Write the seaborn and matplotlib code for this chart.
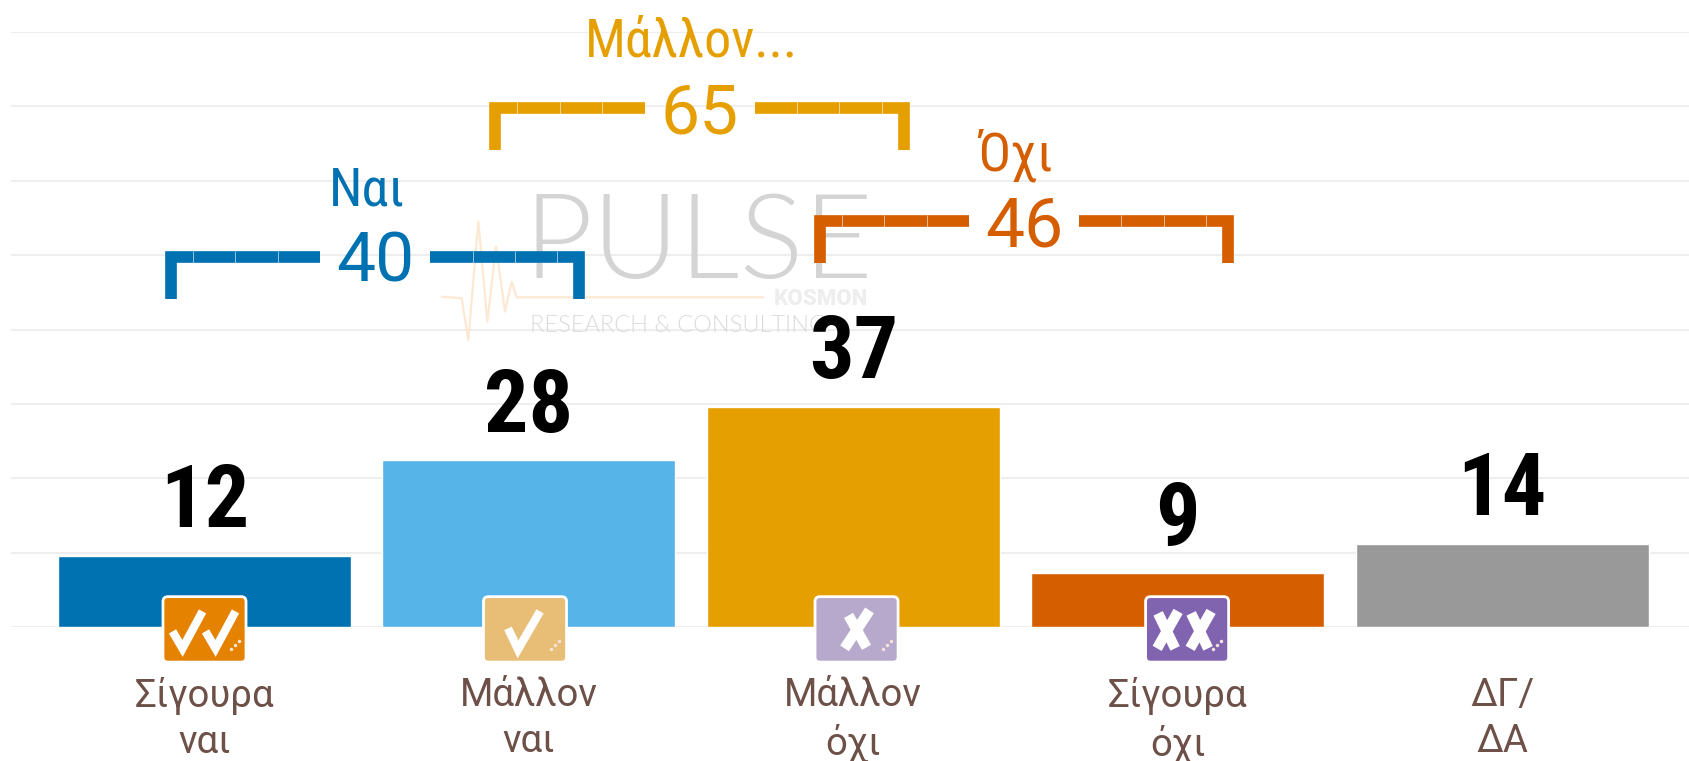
import pandas as pd
import seaborn as sns
import matplotlib.pyplot as plt
from matplotlib.patches import FancyBboxPatch

categories = ['Σίγουρα\nναι', 'Μάλλον\nναι', 'Μάλλον\nόχι', 'Σίγουρα\nόχι', 'ΔΓ/\nΔΑ']
values = [12, 28, 37, 9, 14]
bar_colors = ['#0072B2', '#56B4E9', '#E69F00', '#D55E00', '#999999']

# the three groups above the bars: name, total, first and last category
group_names = ['Ναι', 'Μάλλον...', 'Όχι']
group_totals = [40, 65, 46]
group_spans = [(0, 1), (1, 2), (2, 3)]
group_colors = ['#0072B2', '#E69F00', '#D55E00']

icon_colors = ['#E58200', '#E8BE76', '#B6A9CB', '#8064AF']
icon_shift = [0.0, -0.012, 0.010, 0.029]

W, H = 1690, 761
PX_X = 324.4   # pixels per category
PX_Y = 5.95    # pixels per unit of value
X0 = 204.5     # pixel of the first category
BASE = 627     # pixel of value 0

# strokes of the icon signs, pixels from the icon centre
check = [[(-32, 2), (-22, 19), (-2, -18)], [(1, 2), (11, 19), (31, -18)]]
one_check = [[(-17, -1), (-7, 20), (15, -18)]]
cross = [[(-8, -14), (10, 18)], [(13, -19), (-12, 19)]]
two_cross = [[(-29, -16), (-12, 19)], [(-9, -18), (-30, 19)],
             [(4, -16), (21, 19)], [(24, -18), (3, 19)]]
icon_signs = [check, one_check, cross, two_cross]
icon_sign_lw = [6, 6, 7.5, 7.5]

sns.set_theme(style='white')
plt.rcParams['font.family'] = ['Roboto', 'DejaVu Sans']

fig = plt.figure(figsize=(W / 100, H / 100), dpi=100)
ax = fig.add_axes([11 / W, 1 - BASE / H, 1 - 11 / W, (BASE - 32) / H])

df = pd.DataFrame({'cat': categories, 'val': values})
sns.barplot(data=df, x='cat', y='val', hue='cat', palette=bar_colors, legend=False,
            width=0.903, saturation=1, ax=ax, zorder=2)

ax.set_xlim((11 - X0) / PX_X, (W - X0) / PX_X)
ax.set_ylim(0, 100)
ax.set_yticks([i * 12.5 for i in range(9)])
ax.set_yticklabels([])
ax.set_xlabel('')
ax.set_ylabel('')
ax.grid(axis='y', color='#EEEEEE', linewidth=1.5)
ax.set_axisbelow(True)
sns.despine(ax=ax, left=True, bottom=True, right=True, top=True)
ax.tick_params(axis='x', length=0, pad=36, labelsize=27.5, colors='#6D5047')
ax.tick_params(axis='y', length=0)
for lab in ax.get_xticklabels():
    lab.set_linespacing(1.32)

# value labels
for i, v in enumerate(values):
    ax.annotate(str(v), (i, v), xytext=(0, 20.5), textcoords='offset points', ha='center',
                va='baseline', fontsize=63.5, fontweight='bold', family='Roboto Condensed',
                color='black', zorder=6)

# icons under the first four bars
for i, (signs, lw, col, shift) in enumerate(zip(icon_signs, icon_sign_lw, icon_colors, icon_shift)):
    cx = i + shift
    cy = -0.4
    box = FancyBboxPatch((cx - 0.128, cy - 5.5), 0.256, 11, boxstyle='round,pad=0,rounding_size=0.015',
                         mutation_aspect=PX_X / PX_Y, facecolor=col, edgecolor='white',
                         linewidth=2, clip_on=False, zorder=4)
    ax.add_patch(box)
    for stroke in signs:
        ax.plot([cx + p[0] / PX_X for p in stroke], [cy - p[1] / PX_Y for p in stroke], color='white',
                lw=lw, solid_capstyle='butt', solid_joinstyle='miter', clip_on=False, zorder=5)
    ax.plot([cx + d / PX_X for d in (26, 30, 34)], [cy - d / PX_Y for d in (20, 16, 12)], ls='none',
            marker='.', ms=3, color='#F3E3D8', clip_on=False, zorder=5)

# brackets with the group totals
half = 0.647
gap = 55 / PX_X
seg = 42.4 / PX_X
xpad = 5.85 / PX_X
ypad = 5.85 / PX_Y
for name, total, (a, b), col in zip(group_names, group_totals, group_spans, group_colors):
    mid = (a + b) / 2
    cx = mid + 0.026
    top = total + 23.2
    y = top - ypad
    left = cx - half + xpad
    right = cx + half - xpad
    ax.plot([left, left, cx - gap], [top - 8, y, y], color=col, lw=8.4, solid_joinstyle='miter',
            solid_capstyle='butt', zorder=3, clip_on=False)
    ax.plot([right, right, cx + gap], [top - 8, y, y], color=col, lw=8.4, solid_joinstyle='miter',
            solid_capstyle='butt', zorder=3, clip_on=False)
    for k in range(1, 4):
        for sx in (cx - gap - k * seg, cx + gap + k * seg):
            ax.vlines(sx, top - 2.0, top, color='white', lw=0.5, alpha=0.8, zorder=3.5)
    ax.text(cx, top - 5.2, str(total), ha='center', va='baseline', fontsize=50, color=col,
            zorder=5, clip_on=False)
    ax.text(mid, top + 7.6, name, ha='center', va='baseline', fontsize=39, color=col,
            family='Roboto Condensed', zorder=5, clip_on=False)

# watermark
def fx(p):
    return p / W

def fy(p):
    return 1 - p / H

pulse_x = [125, 185, 205, 235, 262, 288, 315, 335, 350, 1090]
pulse_y = [440, 445, 570, 215, 515, 290, 485, 395, 442, 442]
ax.plot([fx(400 + p / 3) for p in pulse_x], [fy(150 + p / 3) for p in pulse_y], color='#FDE9D3',
        lw=1.6, transform=fig.transFigure, clip_on=False, zorder=1.5)
ax.text(fx(524), fy(278), 'PULSE', transform=fig.transFigure, fontsize=86, color='#D4D4D4',
        family='Lato', fontweight=300, va='baseline', ha='left', zorder=1.5)
ax.text(fx(868), fy(305), 'KOSMON', transform=fig.transFigure, fontsize=16, color='#EEEEEE',
        family='Roboto', fontweight='black', va='baseline', ha='right', zorder=1.5)
ax.text(fx(530), fy(332), 'RESEARCH & CONSULTING', transform=fig.transFigure, fontsize=17,
        color='#DADADA', family='Lato', fontweight=300, va='baseline', ha='left', zorder=1.5)

fig.savefig('out.png', dpi=100, facecolor='white')
